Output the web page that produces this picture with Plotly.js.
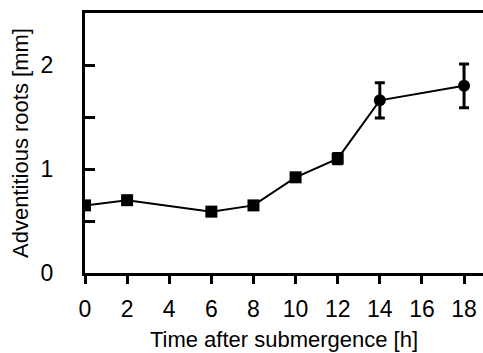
<!DOCTYPE html>
<html><head><meta charset="utf-8">
<script src="https://cdn.plot.ly/plotly-3.0.1.min.js"></script>
<style>html,body{margin:0;padding:0;background:#fff}#c{width:483px;height:353px}</style>
</head><body><div id="c"></div>
<script>
const hours = [0, 2, 6, 8, 10, 12, 14, 18];
const rootLength = [0.65, 0.70, 0.59, 0.65, 0.92, 1.10, 1.66, 1.80];
const rootError = [0.03, 0.02, 0.02, 0.02, 0.03, 0.05, 0.17, 0.21];
const markerSymbols = ['square','square','square','square','square','square','circle','circle'];
const xTicks = [0, 2, 4, 6, 8, 10, 12, 14, 16, 18];
const yTicks = [0, 0.5, 1, 1.5, 2];
const yTickText = ['0', '', '1', '', '2'];

const font = 'Liberation Sans, Arial, sans-serif';
Plotly.newPlot('c', [{
  x: hours, y: rootLength, type: 'scatter', mode: 'lines+markers',
  line: {color: '#000', width: 2},
  marker: {symbol: markerSymbols, size: 12, color: '#000'},
  error_y: {type: 'data', array: rootError, visible: true, color: '#000', thickness: 3, width: 5}
}], {
  width: 483, height: 353,
  margin: {l: 85, r: 0, t: 13, b: 80},
  paper_bgcolor: '#fff', plot_bgcolor: '#fff',
  showlegend: false,
  font: {family: font, color: '#000'},
  xaxis: {
    range: [0, 18.9], tickvals: xTicks, ticks: 'outside', ticklen: 8, tickwidth: 3, tickcolor: '#000',
    showline: true, linewidth: 3, linecolor: '#000', mirror: true, showgrid: false, zeroline: false,
    tickfont: {size: 23, family: font}, ticklabelstandoff: 5,
    title: {text: 'Time after submergence [h]', font: {size: 22, family: font}, standoff: 12}
  },
  yaxis: {
    range: [0, 2.5], tickvals: yTicks, ticktext: yTickText, ticks: 'inside', ticklen: 10, tickwidth: 3, tickcolor: '#000',
    showline: true, linewidth: 3, linecolor: '#000', showgrid: false, zeroline: false,
    tickfont: {size: 23, family: font}, ticklabelstandoff: 24,
    title: {text: 'Adventitious roots [mm]', font: {size: 22, family: font}, standoff: 6}
  }
}, {staticPlot: true});
</script></body></html>
